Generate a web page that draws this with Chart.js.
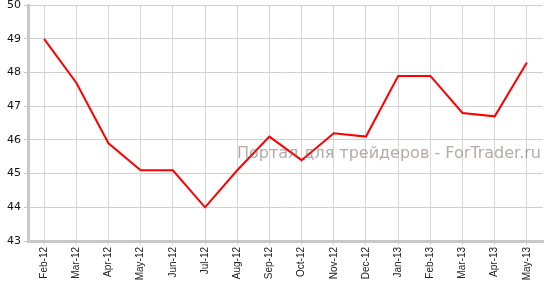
<!DOCTYPE html>
<html>
<head>
<meta charset="utf-8">
<script src="https://cdn.jsdelivr.net/npm/chart.js@4"></script>
<style>
    html, body { margin: 0; padding: 0; background: #fff; }
    #wrap { width: 548px; height: 282px; }
</style>
</head>
<body>
<div id="wrap"><canvas id="myChart" width="548" height="282"></canvas></div>
<script>
const months = ['Feb-12', 'Mar-12', 'Apr-12', 'May-12', 'Jun-12', 'Jul-12', 'Aug-12', 'Sep-12',
    'Oct-12', 'Nov-12', 'Dec-12', 'Jan-13', 'Feb-13', 'Mar-13', 'Apr-13', 'May-13'];
const values = [49.0, 47.7, 45.9, 45.1, 45.1, 44.0, 45.1, 46.1, 45.4, 46.2, 46.1, 47.9, 47.9, 46.8, 46.7, 48.3];
const yTicks = [43, 44, 45, 46, 47, 48, 49, 50];
const watermark = 'Портал для трейдеров - ForTrader.ru';

// watermark text sits over the line
const watermarkPlugin = {
    id: 'watermark',
    afterDraw(chart) {
        const c = chart.ctx;
        c.save();
        c.font = '16px "DejaVu Sans"';
        c.fillStyle = 'rgba(120, 100, 100, 0.55)';
        c.textAlign = 'right';
        c.textBaseline = 'alphabetic';
        c.fillText(watermark, 541, 158);
        c.restore();
    }
};

document.addEventListener('DOMContentLoaded', function () {
    var ctx = document.getElementById('myChart').getContext('2d');
    new Chart(ctx, {
        type: 'line',
        data: {
            labels: months,
            datasets: [{
                data: values,
                borderColor: '#ff0000',
                borderWidth: 2,
                pointRadius: 0,
                tension: 0,
                fill: false
            }]
        },
        options: {
            responsive: false,
            animation: false,
            layout: { padding: { top: 1, right: 5, left: 0, bottom: 0 } },
            plugins: {
                legend: { display: false },
                tooltip: { enabled: false }
            },
            scales: {
                x: {
                    offset: true,
                    grid: { color: '#d6d6d6', lineWidth: 1, offset: false, tickLength: 4, tickColor: '#d6d6d6' },
                    border: { color: '#c8c8c8', width: 3 },
                    ticks: {
                        minRotation: 90,
                        maxRotation: 90,
                        autoSkip: false,
                        padding: 2,
                        color: '#222',
                        font: { family: '"Liberation Sans", Arial', size: 10 }
                    },
                    afterFit(scale) { scale.height = 41; }
                },
                y: {
                    min: 43,
                    max: 50,
                    afterBuildTicks(scale) { scale.ticks = yTicks.map(v => ({ value: v })); },
                    grid: { color: '#d0d0d0', lineWidth: 1, tickLength: 4, tickColor: '#c8c8c8' },
                    border: { color: '#c8c8c8', width: 3 },
                    ticks: {
                        padding: 3,
                        color: '#111',
                        font: { family: '"DejaVu Sans", Verdana', size: 11, lineHeight: 0.4 }
                    },
                    afterFit(scale) { scale.width = 28; }
                }
            }
        },
        plugins: [watermarkPlugin]
    });
});
</script>
</body>
</html>
